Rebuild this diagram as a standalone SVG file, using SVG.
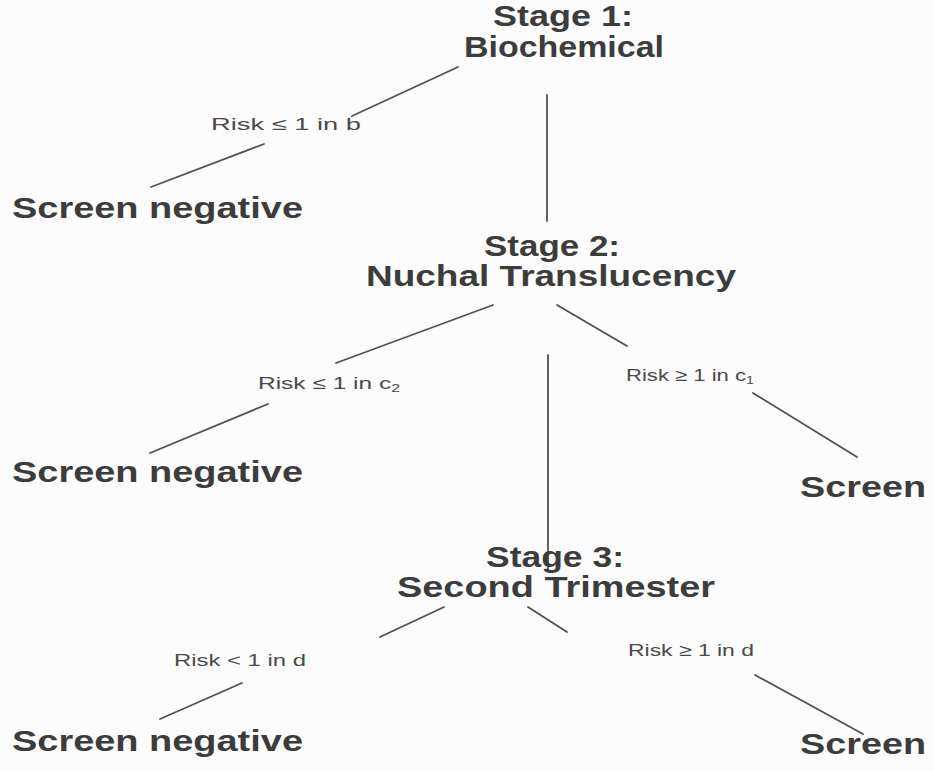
<svg xmlns="http://www.w3.org/2000/svg" width="934" height="771" viewBox="0 0 934 771">
<style>
.n{font-family:"Liberation Sans",Arial,sans-serif;font-weight:bold;font-size:29px;fill:#3c3c3c}
.l{font-family:"Liberation Sans",Arial,sans-serif;font-size:17px;fill:#4a4a4a}
.s{font-size:11px}
.c line{stroke:#505050;stroke-width:1.8;stroke-linecap:round}
</style>
<rect width="934" height="771" fill="#fcfcfc"/>
<g class="c" id="connectors">
<line x1="458" y1="67" x2="352" y2="116"/>
<line x1="264" y1="144" x2="151" y2="187"/>
<line x1="547" y1="95" x2="547" y2="221"/>
<line x1="493" y1="305" x2="336" y2="363"/>
<line x1="557" y1="305" x2="627" y2="346"/>
<line x1="268" y1="404" x2="150" y2="453"/>
<line x1="753" y1="393" x2="857" y2="457"/>
<line x1="548" y1="355" x2="548" y2="568"/>
<line x1="444" y1="607" x2="380" y2="637"/>
<line x1="528" y1="607" x2="567" y2="632"/>
<line x1="242" y1="683" x2="160" y2="719"/>
<line x1="755" y1="675" x2="863" y2="734"/>
</g>
<g id="stage1">
<text class="n" x="493" y="26" textLength="140" lengthAdjust="spacingAndGlyphs">Stage 1:</text>
<text class="n" x="464" y="57" textLength="200" lengthAdjust="spacingAndGlyphs">Biochemical</text>
</g>
<g id="neg1"><text class="n" x="12" y="218" textLength="291" lengthAdjust="spacingAndGlyphs">Screen negative</text></g>
<g id="stage2">
<text class="n" x="484" y="256" textLength="136" lengthAdjust="spacingAndGlyphs">Stage 2:</text>
<text class="n" x="366" y="286" textLength="370" lengthAdjust="spacingAndGlyphs">Nuchal Translucency</text>
</g>
<g id="neg2"><text class="n" x="12" y="482" textLength="291" lengthAdjust="spacingAndGlyphs">Screen negative</text></g>
<g id="pos2"><text class="n" x="800" y="497" textLength="126" lengthAdjust="spacingAndGlyphs">Screen</text></g>
<g id="stage3">
<text class="n" x="486" y="567" textLength="138" lengthAdjust="spacingAndGlyphs">Stage 3:</text>
<text class="n" x="397" y="597" textLength="318" lengthAdjust="spacingAndGlyphs">Second Trimester</text>
</g>
<g id="neg3"><text class="n" x="12" y="751" textLength="291" lengthAdjust="spacingAndGlyphs">Screen negative</text></g>
<g id="pos3"><text class="n" x="800" y="754" textLength="126" lengthAdjust="spacingAndGlyphs">Screen</text></g>
<g id="labels">
<text class="l" x="211" y="130" textLength="150" lengthAdjust="spacingAndGlyphs">Risk ≤ 1 in b</text>
<text class="l" x="258" y="389" textLength="142" lengthAdjust="spacingAndGlyphs">Risk ≤ 1 in c<tspan class="s" dy="3">2</tspan></text>
<text class="l" x="626" y="381" textLength="128" lengthAdjust="spacingAndGlyphs">Risk ≥ 1 in c<tspan class="s" dy="3">1</tspan></text>
<text class="l" x="174" y="666" textLength="132" lengthAdjust="spacingAndGlyphs">Risk &lt; 1 in d</text>
<text class="l" x="628" y="656" textLength="126" lengthAdjust="spacingAndGlyphs">Risk ≥ 1 in d</text>
</g>
</svg>
